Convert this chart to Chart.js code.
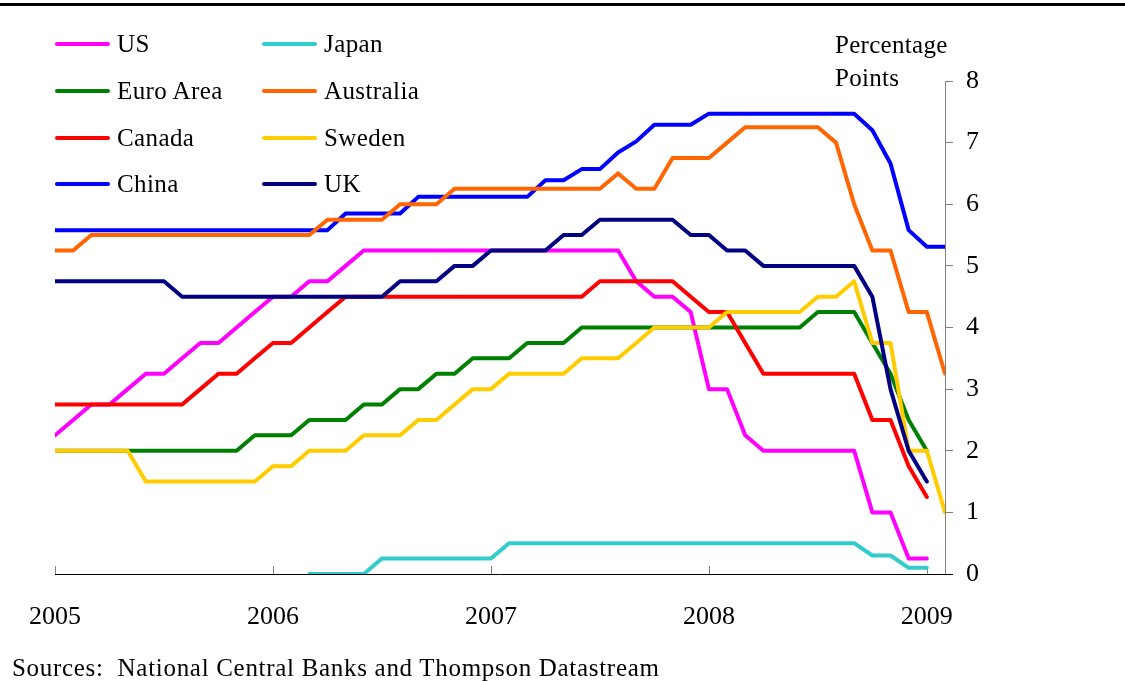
<!DOCTYPE html>
<html>
<head>
<meta charset="utf-8">
<title>Policy rates</title>
<script src="https://cdn.jsdelivr.net/npm/chart.js@4.4.1/dist/chart.umd.min.js"></script>
<style>
  html, body { margin: 0; padding: 0; background: #fff; }
  .wrap {
    position: relative; width: 1125px; height: 681px; overflow: hidden;
    font-family: 'Liberation Serif', 'Times New Roman', serif; color: #000;
  }
  canvas { position: absolute; left: 0; top: 0; }
  .top-rule { position: absolute; left: 0; top: 3px; width: 1125px; height: 3px; background: #000; }
  .legend {
    position: absolute; left: 55px; top: 21px;
    display: grid; grid-template-columns: 207px 200px;
  }
  .legend-item { display: flex; align-items: center; height: 46.7px; font-size: 25px; letter-spacing: 0.4px; white-space: nowrap; }
  .swatch { width: 55px; height: 4px; border-radius: 2px; margin-right: 7px; }
  .unit { position: absolute; left: 835px; top: 28px; font-size: 25px; line-height: 33px; letter-spacing: 0.3px; }
  .source { position: absolute; left: 12px; top: 653px; font-size: 25px; line-height: 30px; letter-spacing: 0.7px; white-space: pre; }
</style>
</head>
<body>
<div class="wrap">
  <div class="top-rule"></div>
  <canvas id="rates" width="1125" height="681"></canvas>
  <div class="legend" id="legend"></div>
  <div class="unit">Percentage<br>Points</div>
  <div class="source">Sources:  National Central Banks and Thompson Datastream</div>
</div>
<script>
// monthly, Jan 2005 = index 0
const yearTicks = [0, 12, 24, 36, 48]
const yearLabels = ['2005', '2006', '2007', '2008', '2009']

const us = [
  2.25, 2.5, 2.75, 2.75, 3, 3.25, 3.25, 3.5, 3.75, 3.75, 4, 4.25,
  4.5, 4.5, 4.75, 4.75, 5, 5.25, 5.25, 5.25, 5.25, 5.25, 5.25, 5.25,
  5.25, 5.25, 5.25, 5.25, 5.25, 5.25, 5.25, 5.25, 4.75, 4.5, 4.5, 4.25,
  3, 3, 2.25, 2, 2, 2, 2, 2, 2, 1, 1, 0.25,
  0.25,
]
const japan = [
  null, null, null, null, null, null, null, null, null, null, null, null,
  null, null, 0, 0, 0, 0, 0.25, 0.25, 0.25, 0.25, 0.25, 0.25,
  0.25, 0.5, 0.5, 0.5, 0.5, 0.5, 0.5, 0.5, 0.5, 0.5, 0.5, 0.5,
  0.5, 0.5, 0.5, 0.5, 0.5, 0.5, 0.5, 0.5, 0.5, 0.3, 0.3, 0.1,
  0.1,
]
const euroArea = [
  2, 2, 2, 2, 2, 2, 2, 2, 2, 2, 2, 2.25,
  2.25, 2.25, 2.5, 2.5, 2.5, 2.75, 2.75, 3, 3, 3.25, 3.25, 3.5,
  3.5, 3.5, 3.75, 3.75, 3.75, 4, 4, 4, 4, 4, 4, 4,
  4, 4, 4, 4, 4, 4, 4.25, 4.25, 4.25, 3.75, 3.25, 2.5,
  2,
]
const australia = [
  5.25, 5.25, 5.5, 5.5, 5.5, 5.5, 5.5, 5.5, 5.5, 5.5, 5.5, 5.5,
  5.5, 5.5, 5.5, 5.75, 5.75, 5.75, 5.75, 6, 6, 6, 6.25, 6.25,
  6.25, 6.25, 6.25, 6.25, 6.25, 6.25, 6.25, 6.5, 6.25, 6.25, 6.75, 6.75,
  6.75, 7, 7.25, 7.25, 7.25, 7.25, 7.25, 7, 6, 5.25, 5.25, 4.25,
  4.25, 3.25,
]
const canada = [
  2.75, 2.75, 2.75, 2.75, 2.75, 2.75, 2.75, 2.75, 3, 3.25, 3.25, 3.5,
  3.75, 3.75, 4, 4.25, 4.5, 4.5, 4.5, 4.5, 4.5, 4.5, 4.5, 4.5,
  4.5, 4.5, 4.5, 4.5, 4.5, 4.5, 4.75, 4.75, 4.75, 4.75, 4.75, 4.5,
  4.25, 4.25, 3.75, 3.25, 3.25, 3.25, 3.25, 3.25, 3.25, 2.5, 2.5, 1.75,
  1.25,
]
const sweden = [
  2, 2, 2, 2, 2, 1.5, 1.5, 1.5, 1.5, 1.5, 1.5, 1.5,
  1.75, 1.75, 2, 2, 2, 2.25, 2.25, 2.25, 2.5, 2.5, 2.75, 3,
  3, 3.25, 3.25, 3.25, 3.25, 3.5, 3.5, 3.5, 3.75, 4, 4, 4,
  4, 4.25, 4.25, 4.25, 4.25, 4.25, 4.5, 4.5, 4.75, 3.75, 3.75, 2,
  2, 1,
]
const china = [
  5.58, 5.58, 5.58, 5.58, 5.58, 5.58, 5.58, 5.58, 5.58, 5.58, 5.58, 5.58,
  5.58, 5.58, 5.58, 5.58, 5.85, 5.85, 5.85, 5.85, 6.12, 6.12, 6.12, 6.12,
  6.12, 6.12, 6.12, 6.39, 6.39, 6.57, 6.57, 6.84, 7.02, 7.29, 7.29, 7.29,
  7.47, 7.47, 7.47, 7.47, 7.47, 7.47, 7.47, 7.47, 7.47, 7.2, 6.66, 5.58,
  5.31, 5.31,
]
const uk = [
  4.75, 4.75, 4.75, 4.75, 4.75, 4.75, 4.75, 4.5, 4.5, 4.5, 4.5, 4.5,
  4.5, 4.5, 4.5, 4.5, 4.5, 4.5, 4.5, 4.75, 4.75, 4.75, 5, 5,
  5.25, 5.25, 5.25, 5.25, 5.5, 5.5, 5.75, 5.75, 5.75, 5.75, 5.75, 5.5,
  5.5, 5.25, 5.25, 5, 5, 5, 5, 5, 5, 4.5, 3, 2,
  1.5,
]

// legend order (row by row); `order` = draw order, lower is on top
const series = [
  { label: 'US', data: us, color: '#ff00ff', order: 8 },
  { label: 'Japan', data: japan, color: '#33cccc', order: 4 },
  { label: 'Euro Area', data: euroArea, color: '#008000', order: 7 },
  { label: 'Australia', data: australia, color: '#ff6600', order: 3 },
  { label: 'Canada', data: canada, color: '#ff0000', order: 6 },
  { label: 'Sweden', data: sweden, color: '#ffcc00', order: 2 },
  { label: 'China', data: china, color: '#0000ff', order: 5 },
  { label: 'UK', data: uk, color: '#000080', order: 1 },
]

Chart.defaults.font.family = "'Liberation Serif', 'Times New Roman', serif"
Chart.defaults.color = '#000'

// short tick marks pointing up into the plot from the x axis,
// plus the little stub of axis line that runs on under the y axis
const innerTicks = {
  id: 'innerTicks',
  beforeDatasetsDraw(chart) {
    const { ctx, chartArea, scales: { x } } = chart
    ctx.save()
    ctx.strokeStyle = '#808080'
    ctx.lineWidth = 1
    yearTicks.forEach((v) => {
      const px = Math.round(x.getPixelForValue(v)) + 0.5
      ctx.beginPath()
      ctx.moveTo(px, chartArea.bottom)
      ctx.lineTo(px, chartArea.bottom - 8)
      ctx.stroke()
    })
    ctx.restore()
  },
  afterDraw(chart) {
    const { ctx, chartArea } = chart
    ctx.save()
    ctx.strokeStyle = '#000'
    ctx.lineWidth = 1
    ctx.beginPath()
    ctx.moveTo(chartArea.right, chartArea.bottom + 0.5)
    ctx.lineTo(chartArea.right + 8, chartArea.bottom + 0.5)
    ctx.stroke()
    ctx.restore()
  },
}

new Chart(document.getElementById('rates'), {
  type: 'line',
  data: {
    datasets: series.map((s) => ({
      label: s.label,
      data: s.data.map((v, i) => ({ x: i, y: v })),
      borderColor: s.color,
      backgroundColor: s.color,
      borderWidth: 4,
      pointRadius: 0,
      tension: 0,
      borderJoinStyle: 'round',
      borderCapStyle: 'round',
      spanGaps: false,
      order: s.order,
    })),
  },
  options: {
    responsive: false,
    animation: false,
    devicePixelRatio: 1,
    layout: { padding: { left: 55, top: 81, right: 0, bottom: 0 } },
    plugins: {
      legend: { display: false },
      tooltip: { enabled: false },
    },
    scales: {
      x: {
        type: 'linear',
        min: 0,
        max: 49,
        afterBuildTicks: (scale) => { scale.ticks = yearTicks.map((v) => ({ value: v })) },
        afterFit: (scale) => { scale.height = 107 },
        ticks: {
          autoSkip: false,
          maxRotation: 0,
          padding: 28,
          font: { size: 26 },
          callback: (v) => yearLabels[yearTicks.indexOf(v)],
        },
        grid: { drawOnChartArea: false, drawTicks: false },
        border: { display: true, color: '#000', width: 1 },
      },
      y: {
        position: 'right',
        min: 0,
        max: 8,
        afterFit: (scale) => { scale.width = 180 },
        ticks: { stepSize: 1, padding: 13, font: { size: 26 } },
        grid: { drawOnChartArea: false, drawTicks: true, tickLength: 8, color: '#808080' },
        border: { display: true, color: '#808080', width: 1 },
      },
    },
  },
  plugins: [innerTicks],
})

document.getElementById('legend').innerHTML = series.map((s) => `
  <div class="legend-item"><span class="swatch" style="background:${s.color}"></span>${s.label}</div>
`).join('')
</script>
</body>
</html>
